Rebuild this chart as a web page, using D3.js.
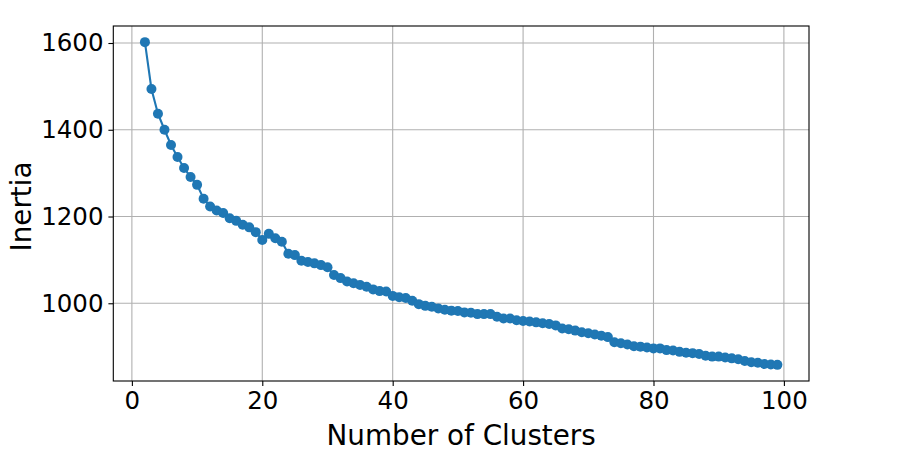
<!DOCTYPE html>
<html>
<head>
<meta charset="utf-8">
<script src="https://cdn.jsdelivr.net/npm/d3@7"></script>
<style>
  body { margin: 0; background: #fff; }
  svg text { font-family: "DejaVu Sans", sans-serif; fill: #000; }
  .grid line { stroke: #b0b0b0; stroke-width: 1.1; }
</style>
</head>
<body>
<div id="chart"></div>
<script>
// k values (number of clusters) and inertia
const clusters = d3.range(2, 100);
const inertia = [
    1602, 1494, 1437, 1400, 1365, 1337, 1312, 1291, 1273, 1241,
    1223, 1214, 1208, 1196, 1190, 1181, 1175, 1164, 1146, 1160,
    1150, 1142, 1114, 1111, 1098, 1095, 1092, 1088, 1083, 1065,
    1058, 1050, 1046, 1042, 1038, 1032, 1028, 1027, 1017, 1014,
    1012, 1006, 998, 994, 992, 988, 985, 983, 982, 979,
    978, 975, 975, 975, 969, 965, 965, 961, 959, 958,
    956, 954, 952, 949, 942, 940, 937, 933, 931, 928,
    925, 922, 910, 908, 905, 901, 900, 898, 896, 896,
    892, 891, 888, 886, 885, 883, 879, 877, 877, 875,
    873, 871, 867, 864, 863, 860, 859, 858
];
const xTicks = [0, 20, 40, 60, 80, 100];
const yTicks = [1000, 1200, 1400, 1600];
const xLabel = "Number of Clusters";
const yLabel = "Inertia";

const width = 900;
const height = 468;
const margin = { top: 26, right: 91, bottom: 87, left: 113.3 };

const data = clusters.map((k, i) => ({ x: k, y: inertia[i] }));

// matplotlib style 5% padding around the data
const xExt = d3.extent(clusters);
const yExt = d3.extent(inertia);
const xPad = (xExt[1] - xExt[0]) * 0.05;
const yPad = (yExt[1] - yExt[0]) * 0.05;

const xScale = d3.scaleLinear()
    .domain([xExt[0] - xPad, xExt[1] + xPad])
    .range([margin.left, width - margin.right]);
const yScale = d3.scaleLinear()
    .domain([yExt[0] - yPad, yExt[1] + yPad])
    .range([height - margin.bottom, margin.top]);

const svg = d3.select("#chart")
    .append("svg")
    .attr("width", width)
    .attr("height", height);

// grid
const grid = svg.append("g").attr("class", "grid");
grid.selectAll(".gx")
    .data(xTicks)
    .enter().append("line")
    .attr("x1", d => xScale(d)).attr("x2", d => xScale(d))
    .attr("y1", margin.top).attr("y2", height - margin.bottom);
grid.selectAll(".gy")
    .data(yTicks)
    .enter().append("line")
    .attr("x1", margin.left).attr("x2", width - margin.right)
    .attr("y1", d => yScale(d)).attr("y2", d => yScale(d));

// axes
const xAxis = d3.axisBottom(xScale).tickValues(xTicks).tickFormat(d3.format("d"))
    .tickSize(4.9).tickPadding(4.9);
const yAxis = d3.axisLeft(yScale).tickValues(yTicks).tickFormat(d3.format("d"))
    .tickSize(4.9).tickPadding(4.9);

const gx = svg.append("g")
    .attr("transform", "translate(0," + (height - margin.bottom) + ")")
    .call(xAxis);
const gy = svg.append("g")
    .attr("transform", "translate(" + margin.left + ",0)")
    .call(yAxis);

[gx, gy].forEach(g => {
    g.select(".domain").remove();
    g.selectAll(".tick line").attr("stroke", "#000").attr("stroke-width", 1.1);
    g.selectAll(".tick text")
        .style("font-family", "'DejaVu Sans', sans-serif")
        .style("font-size", "24.5px")
        .attr("fill", "#000");
});
gx.selectAll(".tick text").attr("dy", "0.76em");

// line and markers
const line = d3.line()
    .x(d => xScale(d.x))
    .y(d => yScale(d.y));

svg.append("path")
    .datum(data)
    .attr("d", line)
    .attr("fill", "none")
    .attr("stroke", "#1f77b4")
    .attr("stroke-width", 2.1);

svg.selectAll("circle.pt")
    .data(data)
    .enter().append("circle")
    .attr("class", "pt")
    .attr("cx", d => xScale(d.x))
    .attr("cy", d => yScale(d.y))
    .attr("r", 5)
    .attr("fill", "#1f77b4");

// frame
svg.append("rect")
    .attr("x", margin.left)
    .attr("y", margin.top)
    .attr("width", width - margin.left - margin.right)
    .attr("height", height - margin.top - margin.bottom)
    .attr("fill", "none")
    .attr("stroke", "#000")
    .attr("stroke-width", 1.1);

// axis labels
svg.append("text")
    .attr("x", (margin.left + width - margin.right) / 2)
    .attr("y", 445)
    .attr("text-anchor", "middle")
    .style("font-size", "27.8px")
    .text(xLabel);

svg.append("text")
    .attr("transform", "translate(30.5," + ((margin.top + height - margin.bottom) / 2 + 3) + ") rotate(-90)")
    .attr("text-anchor", "middle")
    .style("font-size", "27.8px")
    .text(yLabel);
</script>
</body>
</html>
